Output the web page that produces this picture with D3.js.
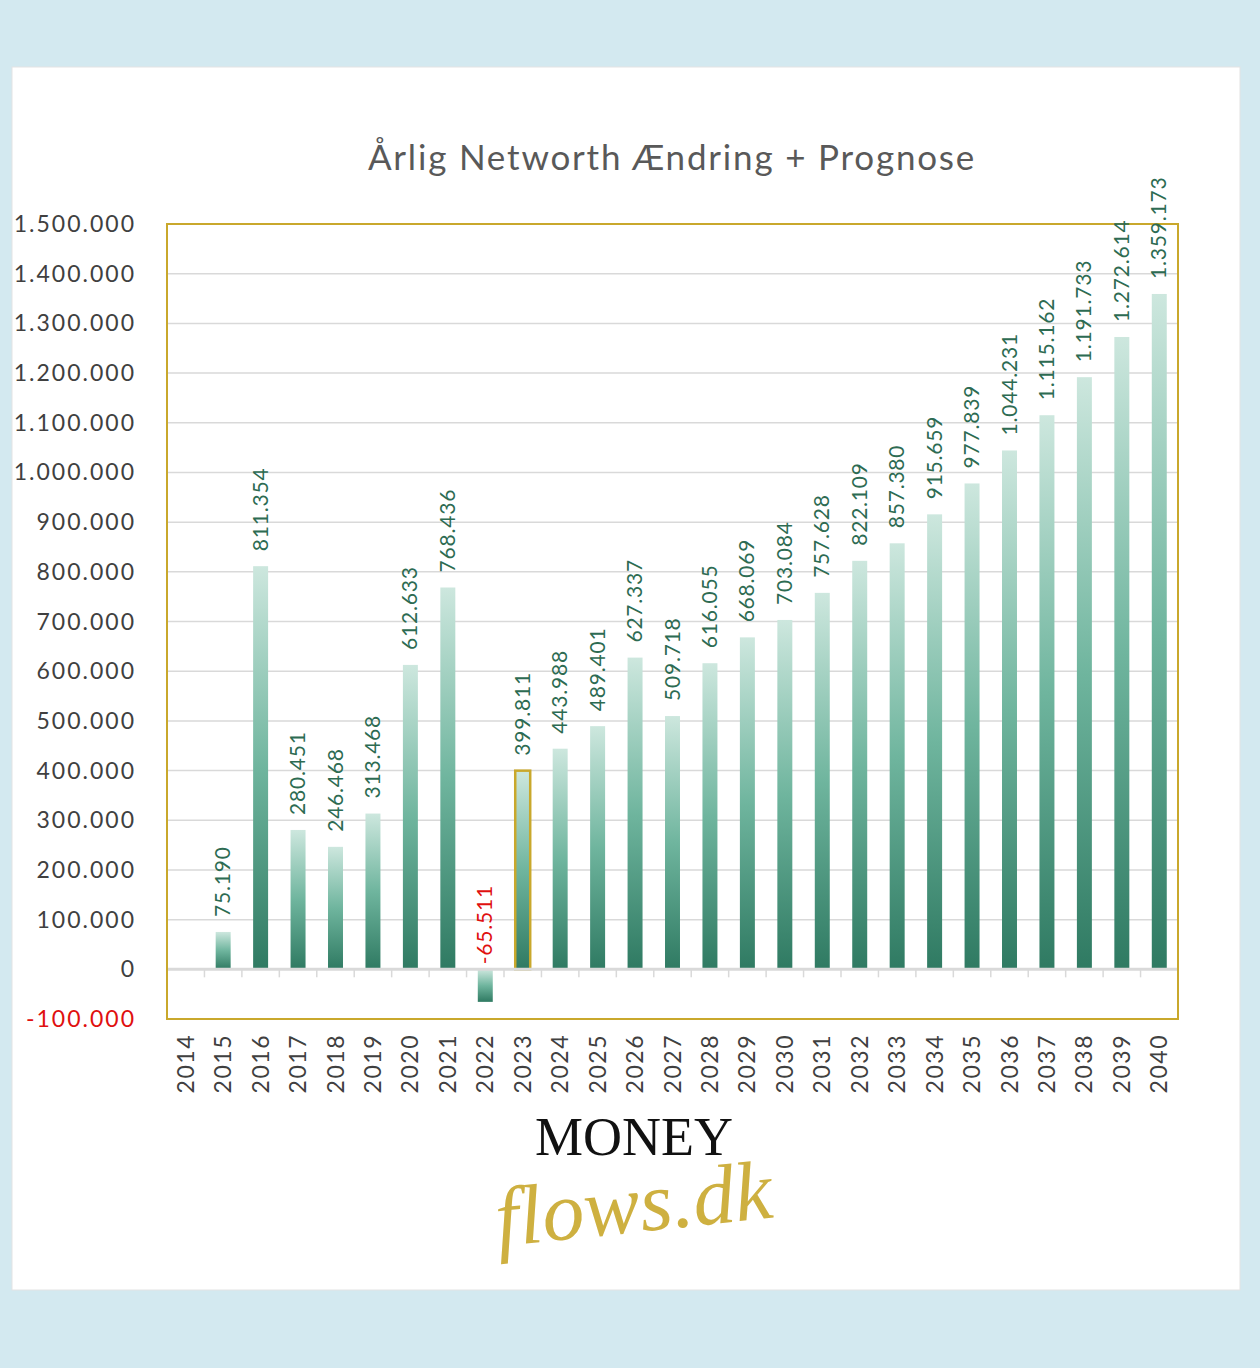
<!DOCTYPE html>
<html><head><meta charset="utf-8">
<script src="https://cdn.jsdelivr.net/npm/d3@7"></script>
<style>
html,body{margin:0;padding:0;background:#d3e9f0;}
svg{display:block;}
</style></head>
<body>
<svg id="chart" width="1260" height="1368"></svg>
<script>
const years = ["2014","2015","2016","2017","2018","2019","2020","2021","2022","2023","2024","2025","2026","2027","2028","2029","2030","2031","2032","2033","2034","2035","2036","2037","2038","2039","2040"];
const values = [null,75190,811354,280451,246468,313468,612633,768436,-65511,399811,443988,489401,627337,509718,616055,668069,703084,757628,822109,857380,915659,977839,1044231,1115162,1191733,1272614,1359173];
const yTicks = [-100000,0,100000,200000,300000,400000,500000,600000,700000,800000,900000,1000000,1100000,1200000,1300000,1400000,1500000];
const highlightYear = "2023";
const titleText = "Årlig Networth Ændring + Prognose";

const loc = d3.formatLocale({decimal:",",thousands:".",grouping:[3],currency:["",""],minus:"-"});
const fmt = loc.format(",d");

const svg = d3.select("#chart");
const font = "Lato, 'Open Sans', sans-serif";

// card
svg.append("rect").attr("x",12).attr("y",67).attr("width",1228).attr("height",1223)
  .attr("fill","#fff").attr("stroke","#e3e3e3").attr("stroke-width",1);

const m = {l:167,r:1178,t:224,b:1019};
const x = d3.scaleBand().domain(years).range([m.l,m.r]).paddingInner(0.6).paddingOuter(0.3);
const y = d3.scaleLinear().domain([-100000,1500000]).range([m.b,m.t]);

const defs = svg.append("defs");
const grad = defs.append("linearGradient").attr("id","barGrad").attr("x1",0).attr("y1",0).attr("x2",0).attr("y2",1);
grad.append("stop").attr("offset","0%").attr("stop-color","#cde7de");
grad.append("stop").attr("offset","50%").attr("stop-color","#6fb59e");
grad.append("stop").attr("offset","100%").attr("stop-color","#2f7a62");

// gridlines
svg.append("g").selectAll("line").data(yTicks.filter(d=>d!==0 && d!==-100000 && d!==1500000)).join("line")
  .attr("x1",m.l).attr("x2",m.r).attr("y1",d=>y(d)).attr("y2",d=>y(d))
  .attr("stroke","#d9d9d9").attr("stroke-width",1.5);

// title
svg.append("text").attr("x",672).attr("y",170).attr("text-anchor","middle")
  .attr("font-family",font).attr("font-size",35).attr("letter-spacing",1.8)
  .attr("fill","#595959").text(titleText);

// y labels
svg.append("g").selectAll("text").data(yTicks).join("text")
  .attr("x",136).attr("y",d=>y(d)).attr("dy","0.35em").attr("text-anchor","end")
  .attr("font-family",font).attr("font-size",23).attr("letter-spacing",2)
  .attr("fill",d=>d<0?"#e0100f":"#404040").text(d=>fmt(d));

// bars
const barData = years.map((yr,i)=>({yr,v:values[i]})).filter(d=>d.v!==null);
svg.append("g").selectAll("rect").data(barData).join("rect")
  .attr("x",d=>x(d.yr)).attr("width",x.bandwidth())
  .attr("y",d=>y(Math.max(0,d.v))).attr("height",d=>Math.abs(y(d.v)-y(0)))
  .attr("fill","url(#barGrad)")
  .attr("stroke",d=>d.yr===highlightYear?"#c9a82c":"none").attr("stroke-width",2.5);

// zero line + ticks
svg.append("line").attr("x1",m.l).attr("x2",m.r).attr("y1",y(0)).attr("y2",y(0))
  .attr("stroke","#d9d9d9").attr("stroke-width",3);
svg.append("g").selectAll("line").data(d3.range(1,years.length)).join("line")
  .attr("x1",i=>m.l+i*(m.r-m.l)/years.length).attr("x2",i=>m.l+i*(m.r-m.l)/years.length)
  .attr("y1",y(0)).attr("y2",y(0)+8).attr("stroke","#d9d9d9").attr("stroke-width",1.5);

// frame
svg.append("rect").attr("x",m.l).attr("y",m.t).attr("width",m.r-m.l).attr("height",m.b-m.t)
  .attr("fill","none").attr("stroke","#c9a82c").attr("stroke-width",2);

// value labels
svg.append("g").selectAll("text").data(barData).join("text")
  .attr("transform",d=>{
    const cx = x(d.yr)+x.bandwidth()/2;
    const yy = d.v<0 ? y(0)-5 : y(d.v)-15;
    return `translate(${cx+7},${yy}) rotate(-90)`;
  })
  .attr("text-anchor","start").attr("font-family",font).attr("font-size",21).attr("letter-spacing",0.8)
  .attr("fill",d=>d.v<0?"#e0100f":"#2d6b52").text(d=>fmt(d.v));

// x labels
svg.append("g").selectAll("text").data(years).join("text")
  .attr("transform",d=>`translate(${x(d)+x.bandwidth()/2+8},${1034}) rotate(-90)`)
  .attr("text-anchor","end").attr("font-family",font).attr("font-size",23).attr("letter-spacing",1.5)
  .attr("fill","#404040").text(d=>d);

// logo
svg.append("text").attr("x",634).attr("y",1155).attr("text-anchor","middle")
  .attr("font-family","'Liberation Serif','DejaVu Serif',serif").attr("font-size",54)
  .attr("fill","#111").text("MONEY");
svg.append("text").attr("x",634).attr("y",1232).attr("text-anchor","middle")
  .attr("font-family","'Liberation Serif','DejaVu Serif',serif").attr("font-style","italic")
  .attr("font-size",84).attr("fill","#c9a82c").attr("opacity",0.9)
  .attr("transform","rotate(-6,634,1210)").text("flows.dk");
</script>
</body></html>
